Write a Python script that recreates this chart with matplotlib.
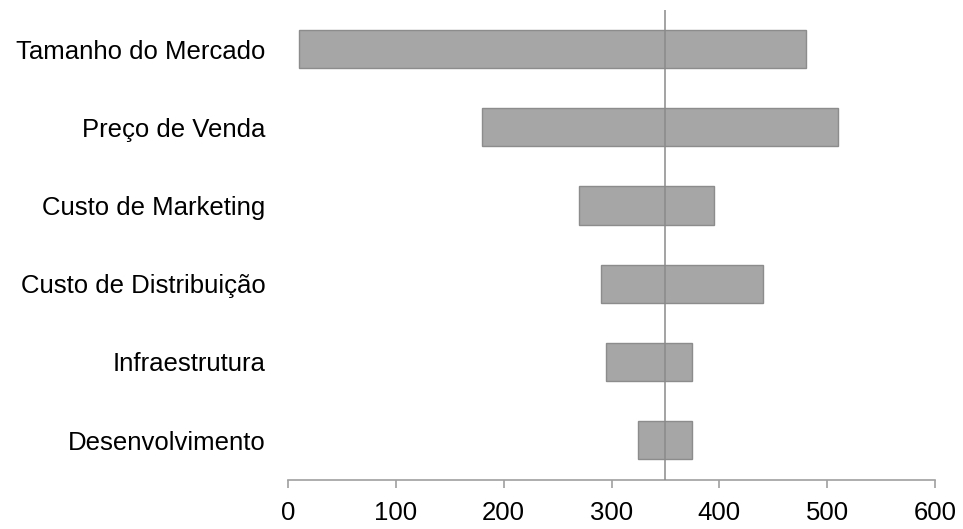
import matplotlib.pyplot as plt

# tornado chart data
categories = ["Tamanho do Mercado", "Preço de Venda", "Custo de Marketing",
              "Custo de Distribuição", "Infraestrutura", "Desenvolvimento"]
low_values = [10, 180, 270, 290, 295, 325]
high_values = [480, 510, 395, 440, 375, 375]
base_value = 350
x_ticks = [0, 100, 200, 300, 400, 500, 600]

plt.rcParams["font.family"] = ["Liberation Sans", "DejaVu Sans"]

fig = plt.figure(figsize=(9.63, 5.29), dpi=100)
ax = fig.add_axes([0.299, 0.0926, 0.672, 0.8885])

ypos = list(range(len(categories)))
widths = [h - l for l, h in zip(low_values, high_values)]
ax.barh(ypos, widths, left=low_values, height=0.49,
        color="#a6a6a6", edgecolor="#8c8c8c", linewidth=1.0, zorder=2)
ax.axvline(base_value, color="#8a8a8a", linewidth=1.1, zorder=3)

ax.set_xlim(0, 600)
ax.set_ylim(5.51, -0.5)
ax.set_xticks(x_ticks)
ax.set_yticks(ypos)
ax.set_yticklabels(categories)

for side in ["top", "right", "left"]:
    ax.spines[side].set_visible(False)
ax.spines["bottom"].set_color("#a0a0a0")
ax.spines["bottom"].set_linewidth(1.2)

ax.tick_params(axis="x", direction="out", length=6, width=1.2, color="#a0a0a0",
               labelsize=18.5, pad=9)
ax.tick_params(axis="y", length=0, labelsize=18.5, pad=16)

fig.savefig("out.png", dpi=100)
